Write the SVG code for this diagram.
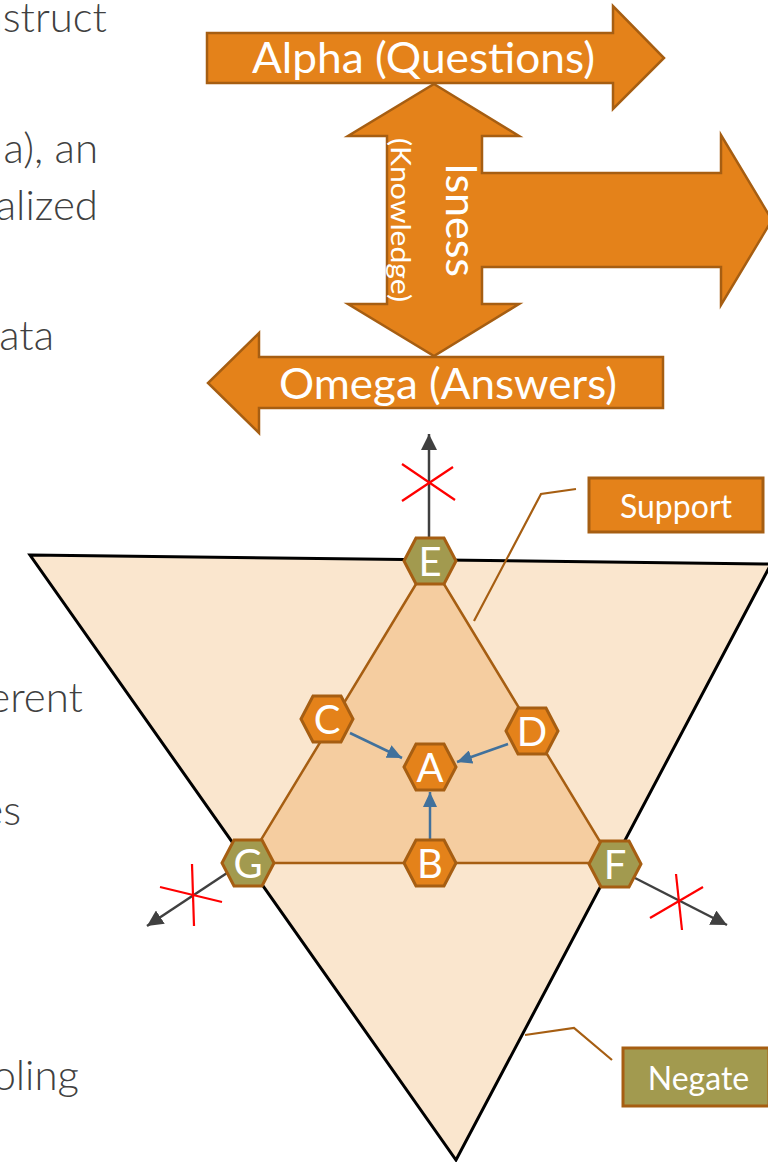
<svg xmlns="http://www.w3.org/2000/svg" width="768" height="1162" viewBox="0 0 768 1162">
<style>
text{font-family:Lato,"Liberation Sans",sans-serif}
.side{fill:#404040;font-size:42px;font-weight:300;text-anchor:end}
.big{fill:#E4821A;stroke:#A65E12;stroke-width:2.5;stroke-linejoin:miter}
.wt{fill:#fff}
.hexo{fill:#E4821A;stroke:#A65E12;stroke-width:3}
.hexg{fill:#A29A4F;stroke:#A65E12;stroke-width:3}
.hl{fill:#fff;font-size:40px;text-anchor:middle}
.dark{stroke:#404040;stroke-width:2.5;fill:none}
.blue{stroke:#41719C;stroke-width:2.5;fill:none}
.red{stroke:#FF0000;stroke-width:2.2}
.call{stroke:#A65E12;stroke-width:2.2;fill:none}
</style>
<defs>
<marker id="ad" markerUnits="userSpaceOnUse" markerWidth="16" markerHeight="16" viewBox="0 0 16 16" refX="16" refY="8" orient="auto"><path d="M0,0 L16,8 L0,16 Z" fill="#404040"/></marker>
<marker id="ab" markerUnits="userSpaceOnUse" markerWidth="15" markerHeight="14" viewBox="0 0 15 14" refX="15" refY="7" orient="auto"><path d="M0,0 L15,7 L0,14 Z" fill="#41719C"/></marker>
<polygon id="hex" points="-26,0 -14,-23 14,-23 26,0 14,23 -14,23"/>
</defs>

<g id="side-text">
<text class="side" x="107" y="32">nstruct</text>
<text class="side" x="98" y="163">a), an</text>
<text class="side" x="98" y="220">alized</text>
<text class="side" x="54" y="350">ata</text>
<text class="side" x="83" y="712">erent</text>
<text class="side" x="21" y="825">es</text>
<text class="side" x="79" y="1090">oling</text>
</g>

<g id="alpha">
<path class="big" d="M207,33 H613 V6 L664,58 L613,109 V83 H207 Z"/>
<text class="wt" x="423.5" y="73" font-size="42" text-anchor="middle" textLength="343" lengthAdjust="spacingAndGlyphs">Alpha (Questions)</text>
</g>
<g id="isness">
<path class="big" d="M434,84 L519,136 H482 V173 H721 V135 L772,220 L721,305 V267 H482 V304 H519 L434,356 L348,304 H387 V136 H348 Z"/>
<text class="wt" transform="translate(446,163) rotate(90)" font-size="42" textLength="114" lengthAdjust="spacingAndGlyphs">Isness</text>
<text class="wt" transform="translate(391,138) rotate(90)" font-size="27" textLength="164" lengthAdjust="spacingAndGlyphs">(Knowledge)</text>
</g>
<g id="omega">
<path class="big" d="M663,357 H259 V333 L208,383 L259,433 V408 H663 Z"/>
<text class="wt" x="448" y="399" font-size="42" text-anchor="middle" textLength="338" lengthAdjust="spacingAndGlyphs">Omega (Answers)</text>
</g>

<g id="negate-area">
<polygon points="30,555 771,564 456,1160" fill="#FAE6CE" stroke="#000" stroke-width="3" stroke-linejoin="miter"/>
</g>
<g id="support-area">
<polygon points="430,561 247,863 613,863" fill="#F5CDA0" stroke="#A65E12" stroke-width="2.5"/>
</g>

<g id="connectors">
<polyline class="call" points="576,489 541,494 474,621"/>
<polyline class="call" points="612,1060 574,1028 525,1035"/>
<line class="dark" x1="429" y1="537" x2="429" y2="434" marker-end="url(#ad)"/>
<line class="dark" x1="227" y1="873" x2="147" y2="926" marker-end="url(#ad)"/>
<line class="dark" x1="635" y1="878" x2="727" y2="925" marker-end="url(#ad)"/>
<line class="red" x1="402" y1="464" x2="455" y2="500"/>
<line class="red" x1="402" y1="501" x2="453" y2="467"/>
<line class="red" x1="160" y1="887" x2="222" y2="902"/>
<line class="red" x1="192" y1="864" x2="194" y2="926"/>
<line class="red" x1="650" y1="918" x2="703" y2="887"/>
<line class="red" x1="676" y1="874" x2="682" y2="930"/>
<line class="blue" x1="350" y1="733" x2="402" y2="758" marker-end="url(#ab)"/>
<line class="blue" x1="430" y1="840" x2="430" y2="792" marker-end="url(#ab)"/>
<line class="blue" x1="508" y1="744" x2="457" y2="762" marker-end="url(#ab)"/>
</g>

<g id="node-E"><use href="#hex" class="hexg" x="430" y="561"/><text class="hl" x="430" y="576">E</text></g>
<g id="node-C"><use href="#hex" class="hexo" x="327" y="719"/><text class="hl" x="327" y="734">C</text></g>
<g id="node-D"><use href="#hex" class="hexo" x="532" y="731"/><text class="hl" x="532" y="746">D</text></g>
<g id="node-A"><use href="#hex" class="hexo" x="430" y="767"/><text class="hl" x="430" y="782">A</text></g>
<g id="node-B"><use href="#hex" class="hexo" x="430" y="863"/><text class="hl" x="430" y="878">B</text></g>
<g id="node-G"><use href="#hex" class="hexg" x="248" y="863"/><text class="hl" x="248" y="878">G</text></g>
<g id="node-F"><use href="#hex" class="hexg" x="615" y="864"/><text class="hl" x="615" y="879">F</text></g>

<g id="support-label">
<rect x="589" y="478" width="174" height="54" fill="#E4821A" stroke="#A65E12" stroke-width="3"/>
<text x="676" y="518" fill="#fff" font-size="32" text-anchor="middle">Support</text>
</g>
<g id="negate-label">
<rect x="623" y="1048" width="146" height="58" fill="#A29A4F" stroke="#A65E12" stroke-width="3"/>
<text x="698.5" y="1090" fill="#fff" font-size="32" text-anchor="middle">Negate</text>
</g>
</svg>
